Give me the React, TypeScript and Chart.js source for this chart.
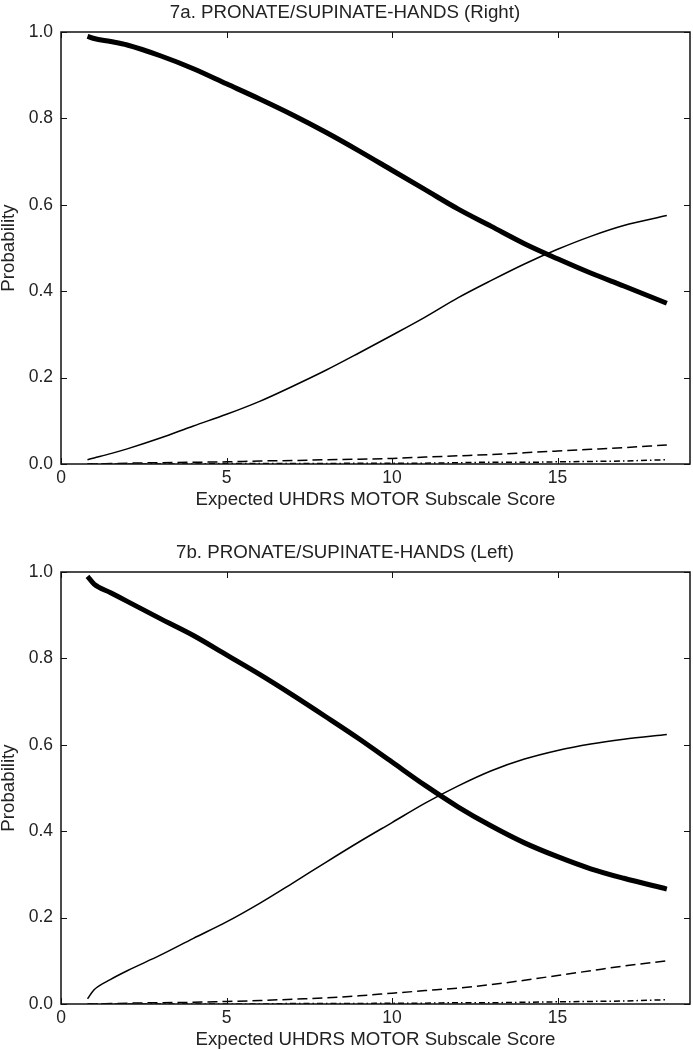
import React, { useEffect, useRef } from "react";
import { Chart, registerables } from "chart.js";

Chart.register(...registerables);

// ---- Data ----
const titleRight = "7a. PRONATE/SUPINATE-HANDS (Right)";
const titleLeft = "7b. PRONATE/SUPINATE-HANDS (Left)";
const xTitle = "Expected UHDRS MOTOR Subscale Score";
const yTitle = "Probability";

const xValues = [0.8, 1, 1.5, 2, 3, 4, 5, 6, 7, 8, 9, 10, 11, 12, 13, 14, 15, 16, 17, 18.3];

// 7a (Right)
const rightCat0 = [0.99, 0.985, 0.978, 0.97, 0.945, 0.915, 0.88, 0.845, 0.808, 0.768, 0.725, 0.68, 0.635, 0.59, 0.55, 0.51, 0.475, 0.442, 0.412, 0.372];
const rightCat1 = [0.01, 0.014, 0.024, 0.035, 0.06, 0.088, 0.115, 0.145, 0.18, 0.217, 0.257, 0.298, 0.34, 0.385, 0.425, 0.463, 0.497, 0.527, 0.552, 0.575];
const rightCat2 = [0.0, 0.0, 0.001, 0.002, 0.003, 0.004, 0.005, 0.007, 0.008, 0.01, 0.011, 0.013, 0.016, 0.019, 0.022, 0.026, 0.03, 0.034, 0.038, 0.044];
const rightCat3 = [0.0, 0.0, 0.0, 0.0, 0.0, 0.0, 0.001, 0.001, 0.001, 0.001, 0.002, 0.002, 0.002, 0.003, 0.004, 0.004, 0.005, 0.006, 0.007, 0.01];

// 7b (Left)
const leftCat0 = [0.99, 0.972, 0.952, 0.932, 0.892, 0.853, 0.808, 0.763, 0.715, 0.665, 0.614, 0.56, 0.506, 0.456, 0.412, 0.373, 0.341, 0.313, 0.291, 0.266];
const leftCat1 = [0.012, 0.033, 0.057, 0.077, 0.113, 0.152, 0.19, 0.233, 0.28, 0.328, 0.375, 0.42, 0.465, 0.505, 0.54, 0.567, 0.587, 0.602, 0.613, 0.624];
const leftCat2 = [0.0, 0.0, 0.001, 0.002, 0.003, 0.004, 0.006, 0.008, 0.011, 0.014, 0.019, 0.025, 0.031, 0.037, 0.045, 0.055, 0.066, 0.077, 0.088, 0.1];
const leftCat3 = [0.0, 0.0, 0.0, 0.0, 0.0, 0.0, 0.0, 0.0, 0.001, 0.001, 0.001, 0.002, 0.002, 0.003, 0.003, 0.004, 0.005, 0.006, 0.007, 0.01];

const xTicks = [0, 5, 10, 15];
const yTicks = [0, 0.2, 0.4, 0.6, 0.8, 1.0];
const xMin = 0;
const xMax = 19;

const FONT = "'Liberation Sans', Arial, Helvetica, sans-serif";
const INK = "#111";
const TEXT = "#222";
const TITLE_SIZE = 18.7;
const TICK_SIZE = 17.5;

const toPts = (ys: number[]) => xValues.map((x, i) => ({ x, y: ys[i] }));

const frameTicks = {
  id: "frameTicks",
  afterDatasetsDraw(chart: any) {
    const { ctx, chartArea } = chart;
    const { left, right, top, bottom } = chartArea;
    const xs = chart.scales.x;
    const ys = chart.scales.y;
    const len = 6;
    ctx.save();
    ctx.strokeStyle = INK;
    ctx.lineWidth = 1;
    ctx.beginPath();
    xTicks.forEach((v) => {
      const px = Math.round(xs.getPixelForValue(v)) + 0.5;
      ctx.moveTo(px, bottom);
      ctx.lineTo(px, bottom - len);
      ctx.moveTo(px, top);
      ctx.lineTo(px, top + len);
    });
    yTicks.forEach((v) => {
      const py = Math.round(ys.getPixelForValue(v)) + 0.5;
      ctx.moveTo(left, py);
      ctx.lineTo(left + len, py);
      ctx.moveTo(right, py);
      ctx.lineTo(right - len, py);
    });
    ctx.stroke();
    ctx.lineWidth = 1.5;
    ctx.strokeRect(left, top, right - left, bottom - top);
    ctx.restore();
  },
};

function makeConfig(title: string, c0: number[], c1: number[], c2: number[], c3: number[]): any {
  const base = { borderColor: "#000", pointRadius: 0, fill: false, cubicInterpolationMode: "monotone" };
  return {
    type: "line",
    data: {
      datasets: [
        { ...base, label: "0", data: toPts(c0), borderWidth: 5 },
        { ...base, label: "1", data: toPts(c1), borderWidth: 1.5 },
        { ...base, label: "2", data: toPts(c2), borderWidth: 1.5, borderDash: [10, 5] },
        { ...base, label: "3", data: toPts(c3), borderWidth: 1.5, borderDash: [6, 3, 1.5, 3] },
      ],
    },
    options: {
      animation: false,
      responsive: false,
      maintainAspectRatio: false,
      layout: { padding: { left: 0, right: 3, top: 0, bottom: 0 } },
      plugins: {
        legend: { display: false },
        tooltip: { enabled: false },
        title: {
          display: true,
          text: title,
          color: TEXT,
          font: { family: FONT, size: TITLE_SIZE, weight: "normal" },
          padding: { top: 1.8, bottom: 7.76 },
        },
      },
      scales: {
        x: {
          type: "linear",
          min: xMin,
          max: xMax,
          afterBuildTicks: (s: any) => {
            s.ticks = xTicks.map((v) => ({ value: v }));
          },
          afterFit: (s: any) => {
            s.height = 46;
          },
          grid: { display: false, drawTicks: false },
          border: { display: false },
          ticks: { color: TEXT, font: { family: FONT, size: TICK_SIZE }, padding: 4, maxRotation: 0 },
          title: { display: true, text: xTitle, color: TEXT, font: { family: FONT, size: TITLE_SIZE }, padding: { top: 0, bottom: -1 } },
        },
        y: {
          type: "linear",
          min: 0,
          max: 1,
          afterBuildTicks: (s: any) => {
            s.ticks = yTicks.map((v) => ({ value: v }));
          },
          afterFit: (s: any) => {
            s.width = 61;
          },
          grid: { display: false, drawTicks: false },
          border: { display: false },
          ticks: { color: TEXT, font: { family: FONT, size: TICK_SIZE }, padding: 8, callback: (v: any) => Number(v).toFixed(1) },
          title: { display: true, text: yTitle, color: TEXT, font: { family: FONT, size: TITLE_SIZE }, padding: { top: -2, bottom: 0 } },
        },
      },
    },
    plugins: [frameTicks],
  };
}

function ChartCanvas({ cfg, top }: { cfg: () => any; top: number }) {
  const ref = useRef<HTMLCanvasElement | null>(null);
  useEffect(() => {
    if (!ref.current) return;
    const chart = new Chart(ref.current, cfg());
    return () => chart.destroy();
  }, []);
  return (
    <canvas
      ref={ref}
      width={693}
      height={510}
      style={{ position: "absolute", left: 0, top, width: 693, height: 510 }}
    />
  );
}

export default function App() {
  return (
    <div style={{ position: "absolute", left: 0, top: 0, width: 693, height: 1050, background: "#fff", overflow: "hidden" }}>
      <ChartCanvas top={0} cfg={() => makeConfig(titleRight, rightCat0, rightCat1, rightCat2, rightCat3)} />
      <ChartCanvas top={540} cfg={() => makeConfig(titleLeft, leftCat0, leftCat1, leftCat2, leftCat3)} />
    </div>
  );
}
